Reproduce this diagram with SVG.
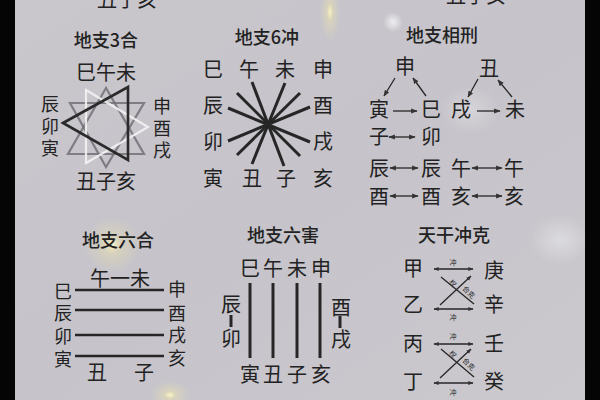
<svg xmlns="http://www.w3.org/2000/svg" width="600" height="400" viewBox="0 0 600 400">
<defs>
<linearGradient id="bg" x1="0" y1="0" x2="1" y2="1">
<stop offset="0" stop-color="#c9c6cc"/>
<stop offset="0.5" stop-color="#c6c4ca"/>
<stop offset="1" stop-color="#cbc9ce"/>
</linearGradient>
<radialGradient id="glow">
<stop offset="0" stop-color="#fff8c8" stop-opacity="0.95"/>
<stop offset="0.3" stop-color="#f0e6a8" stop-opacity="0.4"/>
<stop offset="1" stop-color="#e8e0b0" stop-opacity="0"/>
</radialGradient>
<radialGradient id="glow2">
<stop offset="0" stop-color="#ffffff" stop-opacity="0.7"/>
<stop offset="1" stop-color="#ffffff" stop-opacity="0"/>
</radialGradient>
<marker id="ah" viewBox="0 0 10 10" refX="9" refY="5" markerWidth="5" markerHeight="5" orient="auto-start-reverse">
<path d="M0,1 L10,5 L0,9 z" fill="#333"/>
</marker>
<marker id="ah2" viewBox="0 0 10 10" refX="9" refY="5" markerWidth="4" markerHeight="4" orient="auto-start-reverse">
<path d="M0,1 L10,5 L0,9 z" fill="#333"/>
</marker>
</defs>
<style>
text{font-family:"Noto Sans CJK SC","Noto Sans CJK TC",sans-serif;fill:#222;text-anchor:middle}
.t{font-size:18px;font-weight:500}
.c{font-size:20px}
.v{font-size:18px}
.s{font-size:7px}
.ln{stroke:#262626;fill:none}
.thick{stroke-width:3}
.mid{stroke-width:2.4}
.thin{stroke-width:1.3}
</style>
<rect width="600" height="400" fill="url(#bg)"/>
<ellipse cx="112" cy="245" rx="28" ry="28" fill="url(#glow)"/>
<ellipse cx="330" cy="12" rx="10" ry="30" fill="url(#glow)"/>
<ellipse cx="393" cy="22" rx="10" ry="10" fill="url(#glow2)"/>
<ellipse cx="170" cy="395" rx="20" ry="14" fill="url(#glow)"/>
<ellipse cx="470" cy="110" rx="30" ry="25" fill="url(#glow2)" opacity="0.4"/>
<ellipse cx="560" cy="240" rx="30" ry="25" fill="url(#glow2)" opacity="0.5"/>
<rect x="0" y="0" width="15" height="400" fill="#050505"/>
<rect x="585" y="0" width="15" height="400" fill="#050505"/>

<text class="c" x="127" y="7">丑子亥</text>
<text class="c" x="476" y="3">丑子亥</text>

<g id="sanhe">
<text class="t" x="106" y="47">地支3合</text>
<text class="c" x="106" y="80">巳午未</text>
<text class="v" x="50" y="111">辰</text>
<text class="v" x="50" y="133">卯</text>
<text class="v" x="50" y="155">寅</text>
<text class="v" x="162" y="113">申</text>
<text class="v" x="162" y="135">酉</text>
<text class="v" x="162" y="157">戌</text>
<text class="c" x="106" y="189">丑子亥</text>
<polygon points="106,88 68,154 144,154" fill="none" stroke="#6e6c72" stroke-width="2.2" opacity="0.8"/>
<polygon points="70,103 144,103 106,167" fill="none" stroke="#6e6c72" stroke-width="2.2" opacity="0.8"/>
<polygon points="86,90 148,127 86,163" fill="none" stroke="#f2f2f2" stroke-width="2.2" opacity="0.9"/>
<polygon points="63,123 128,87 128,160" fill="none" stroke="#2a2a2a" stroke-width="2.6"/>
</g>

<g id="liuchong">
<text class="t" x="267" y="44">地支6冲</text>
<text class="c" x="213" y="77">巳</text>
<text class="c" x="249" y="77">午</text>
<text class="c" x="285" y="77">未</text>
<text class="c" x="323" y="77">申</text>
<text class="c" x="213" y="113">辰</text>
<text class="c" x="323" y="113">酉</text>
<text class="c" x="213" y="149">卯</text>
<text class="c" x="323" y="149">戌</text>
<text class="c" x="213" y="186">寅</text>
<text class="c" x="252" y="186">丑</text>
<text class="c" x="286" y="186">子</text>
<text class="c" x="323" y="186">亥</text>
</g>

<g id="xiangxing">
<text class="t" x="442" y="42">地支相刑</text>
<text class="c" x="405" y="74">申</text>
<text class="c" x="489" y="76">丑</text>
<text class="c" x="379" y="117">寅</text>
<text class="c" x="431" y="117">巳</text>
<text class="c" x="461" y="117">戌</text>
<text class="c" x="515" y="117">未</text>
<text class="c" x="379" y="144">子</text>
<text class="c" x="431" y="144">卯</text>
<text class="c" x="379" y="176">辰</text>
<text class="c" x="431" y="176">辰</text>
<text class="c" x="461" y="176">午</text>
<text class="c" x="514" y="176">午</text>
<text class="c" x="379" y="204">酉</text>
<text class="c" x="431" y="204">酉</text>
<text class="c" x="461" y="204">亥</text>
<text class="c" x="514" y="204">亥</text>
</g>

<g id="liuhe">
<text class="t" x="118" y="247">地支六合</text>
<text class="c" x="120" y="286">午一未</text>
<text class="v" x="63" y="298">巳</text>
<text class="v" x="63" y="320">辰</text>
<text class="v" x="63" y="343">卯</text>
<text class="v" x="63" y="366">寅</text>
<text class="v" x="177" y="296">申</text>
<text class="v" x="177" y="320">酉</text>
<text class="v" x="177" y="342">戌</text>
<text class="v" x="177" y="365">亥</text>
<text class="c" x="97" y="380">丑</text>
<text class="c" x="144" y="380">子</text>
</g>

<g id="liuhai">
<text class="t" x="283" y="242">地支六害</text>
<text class="c" x="250" y="276">巳</text>
<text class="c" x="273" y="276">午</text>
<text class="c" x="297" y="276">未</text>
<text class="c" x="321" y="276">申</text>
<text class="c" x="250" y="382">寅</text>
<text class="c" x="273" y="382">丑</text>
<text class="c" x="297" y="382">子</text>
<text class="c" x="321" y="382">亥</text>
<text class="c" x="231" y="312">辰</text>
<text class="c" x="231" y="346">卯</text>
<text class="c" x="341" y="315">酉</text>
<text class="c" x="341" y="347">戌</text>
</g>

<g id="tiangan">
<text class="t" x="454" y="242">天干冲克</text>
<text class="c" x="413" y="276">甲</text>
<text class="c" x="413" y="312">乙</text>
<text class="c" x="413" y="351">丙</text>
<text class="c" x="413" y="389">丁</text>
<text class="c" x="494" y="278">庚</text>
<text class="c" x="494" y="312">辛</text>
<text class="c" x="494" y="351">壬</text>
<text class="c" x="494" y="389">癸</text>
<text class="s" x="453" y="265">冲</text>
<text class="s" x="453" y="320">冲</text>
<text class="s" x="453" y="339">冲</text>
<text class="s" x="453" y="395">冲</text>
<text class="s" transform="translate(451,285) rotate(45)">权</text>
<text class="s" transform="translate(467,294) rotate(45)">合克</text>
<text class="s" transform="translate(451,356) rotate(45)">权</text>
<text class="s" transform="translate(467,366) rotate(45)">合克</text>
</g>

<g id="connectors">
<g class="ln thick">
<line x1="252" y1="82" x2="284" y2="166"/>
<line x1="285" y1="83" x2="252" y2="164"/>
<line x1="237" y1="93" x2="300" y2="156"/>
<line x1="300" y1="93" x2="237" y2="155"/>
<line x1="228" y1="108" x2="310" y2="142"/>
<line x1="310" y1="107" x2="228" y2="141"/>
</g>
<g class="ln thin">
<line x1="395" y1="78" x2="384" y2="96" marker-end="url(#ah)"/>
<line x1="426" y1="96" x2="413" y2="78" marker-end="url(#ah)"/>
<line x1="478" y1="79" x2="468" y2="97" marker-end="url(#ah)"/>
<line x1="512" y1="97" x2="498" y2="80" marker-end="url(#ah)"/>
<line x1="393" y1="111" x2="417" y2="111" marker-end="url(#ah)"/>
<line x1="477" y1="111" x2="500" y2="111" marker-end="url(#ah)"/>
<line x1="389" y1="137" x2="415" y2="137" marker-start="url(#ah)" marker-end="url(#ah)"/>
<line x1="390" y1="168" x2="418" y2="168" marker-start="url(#ah)" marker-end="url(#ah)"/>
<line x1="472" y1="168" x2="502" y2="168" marker-start="url(#ah)" marker-end="url(#ah)"/>
<line x1="390" y1="196" x2="418" y2="196" marker-start="url(#ah)" marker-end="url(#ah)"/>
<line x1="472" y1="196" x2="502" y2="196" marker-start="url(#ah)" marker-end="url(#ah)"/>
</g>
<g class="ln mid">
<line x1="75" y1="290" x2="164" y2="290"/>
<line x1="75" y1="310" x2="164" y2="310"/>
<line x1="75" y1="335" x2="164" y2="335"/>
<line x1="75" y1="356" x2="164" y2="356"/>
</g>
<g class="ln thick">
<line x1="250" y1="283" x2="250" y2="358"/>
<line x1="273" y1="283" x2="273" y2="358"/>
<line x1="297" y1="283" x2="297" y2="358"/>
<line x1="320" y1="283" x2="320" y2="358"/>
<line x1="231" y1="315" x2="231" y2="327"/>
<line x1="340" y1="316" x2="340" y2="328"/>
</g>
<g class="ln thin">
<line x1="434" y1="269" x2="473" y2="269" marker-start="url(#ah2)" marker-end="url(#ah2)"/>
<line x1="434" y1="309" x2="473" y2="309" marker-start="url(#ah2)" marker-end="url(#ah2)"/>
<line x1="441" y1="277" x2="474" y2="304"/>
<line x1="440" y1="305" x2="471" y2="276" marker-end="url(#ah2)"/>
<line x1="434" y1="344" x2="473" y2="344" marker-start="url(#ah2)" marker-end="url(#ah2)"/>
<line x1="434" y1="383" x2="473" y2="383" marker-start="url(#ah2)" marker-end="url(#ah2)"/>
<line x1="441" y1="349" x2="474" y2="377"/>
<line x1="440" y1="378" x2="471" y2="349" marker-end="url(#ah2)"/>
</g>
</g>
</svg>
